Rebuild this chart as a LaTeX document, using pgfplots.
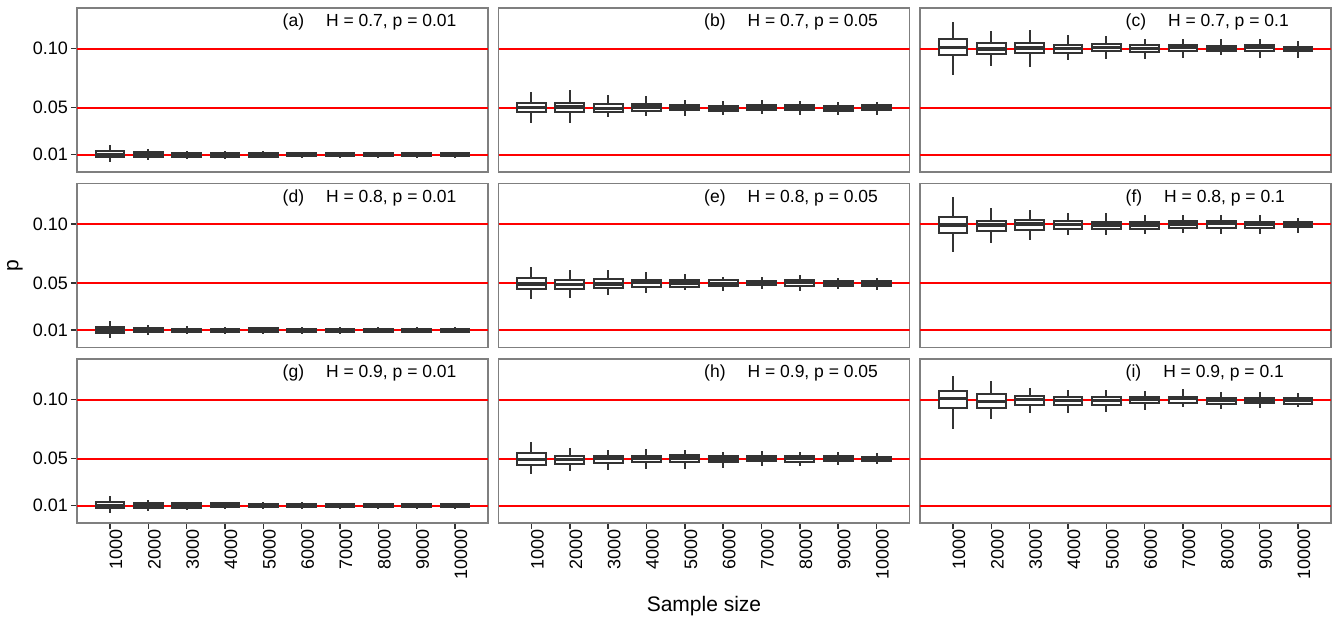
\documentclass[border=0pt]{standalone}
\usepackage{fontspec}
\setmainfont{Liberation Sans}
\usepackage{pgfplots}
\usepackage{pgfplotstable}
\pgfplotsset{compat=1.18}
\usepgfplotslibrary{statistics}
\definecolor{dk}{HTML}{333333}
\definecolor{fr}{HTML}{7F7F7F}
\definecolor{rl}{HTML}{FF0000}

\pgfplotstableread{
lw lq med uq uw
0.0041 0.0077 0.0103 0.0131 0.0182
0.0052 0.0080 0.0100 0.0120 0.0151
0.0063 0.0083 0.0100 0.0114 0.0134
0.0066 0.0084 0.0100 0.0114 0.0130
0.0068 0.0084 0.0100 0.0114 0.0128
0.0070 0.0086 0.0100 0.0112 0.0126
0.0071 0.0087 0.0100 0.0112 0.0125
0.0072 0.0087 0.0100 0.0112 0.0124
0.0073 0.0088 0.0100 0.0111 0.0124
0.0074 0.0088 0.0100 0.0111 0.0123
}\tA
\pgfplotstableread{
lw lq med uq uw
0.0370 0.0458 0.0500 0.0540 0.0633
0.0373 0.0458 0.0503 0.0542 0.0647
0.0420 0.0458 0.0494 0.0528 0.0610
0.0429 0.0472 0.0503 0.0531 0.0596
0.0426 0.0477 0.0506 0.0525 0.0568
0.0438 0.0472 0.0497 0.0517 0.0554
0.0443 0.0480 0.0506 0.0525 0.0560
0.0438 0.0477 0.0500 0.0520 0.0554
0.0438 0.0472 0.0497 0.0517 0.0548
0.0435 0.0477 0.0500 0.0520 0.0551
}\tB
\pgfplotstableread{
lw lq med uq uw
0.0774 0.0943 0.1008 0.1079 0.1226
0.0850 0.0955 0.0997 0.1048 0.1153
0.0847 0.0966 0.1006 0.1045 0.1158
0.0907 0.0963 0.1000 0.1034 0.1113
0.0910 0.0980 0.1011 0.1037 0.1108
0.0912 0.0975 0.1000 0.1028 0.1079
0.0924 0.0983 0.1008 0.1028 0.1085
0.0943 0.0977 0.1006 0.1025 0.1085
0.0921 0.0980 0.1008 0.1031 0.1085
0.0921 0.0977 0.1000 0.1017 0.1062
}\tC
\pgfplotstableread{
lw lq med uq uw
0.0036 0.0072 0.0100 0.0130 0.0178
0.0055 0.0081 0.0100 0.0119 0.0148
0.0064 0.0084 0.0100 0.0114 0.0134
0.0066 0.0085 0.0100 0.0114 0.0131
0.0068 0.0085 0.0101 0.0115 0.0129
0.0070 0.0086 0.0100 0.0112 0.0127
0.0071 0.0087 0.0100 0.0112 0.0126
0.0072 0.0087 0.0101 0.0113 0.0125
0.0073 0.0088 0.0100 0.0111 0.0124
0.0074 0.0088 0.0100 0.0112 0.0123
}\tD
\pgfplotstableread{
lw lq med uq uw
0.0364 0.0449 0.0492 0.0540 0.0636
0.0375 0.0449 0.0486 0.0523 0.0610
0.0398 0.0455 0.0494 0.0531 0.0613
0.0418 0.0466 0.0503 0.0525 0.0593
0.0438 0.0469 0.0500 0.0528 0.0574
0.0435 0.0472 0.0497 0.0523 0.0554
0.0446 0.0480 0.0500 0.0520 0.0554
0.0435 0.0477 0.0503 0.0525 0.0571
0.0446 0.0477 0.0497 0.0520 0.0542
0.0440 0.0477 0.0497 0.0517 0.0542
}\tE
\pgfplotstableread{
lw lq med uq uw
0.0762 0.0924 0.0994 0.1057 0.1229
0.0839 0.0941 0.0994 0.1025 0.1139
0.0867 0.0952 0.1000 0.1037 0.1122
0.0907 0.0960 0.0997 0.1023 0.1093
0.0904 0.0955 0.0994 0.1020 0.1096
0.0918 0.0960 0.0994 0.1014 0.1074
0.0924 0.0969 0.1000 0.1023 0.1074
0.0915 0.0969 0.1006 0.1028 0.1079
0.0915 0.0966 0.1000 0.1020 0.1074
0.0929 0.0975 0.0997 0.1014 0.1054
}\tF
\pgfplotstableread{
lw lq med uq uw
0.0038 0.0077 0.0102 0.0128 0.0185
0.0058 0.0077 0.0097 0.0123 0.0148
0.0066 0.0083 0.0101 0.0120 0.0134
0.0068 0.0087 0.0103 0.0119 0.0133
0.0069 0.0085 0.0100 0.0115 0.0130
0.0071 0.0086 0.0099 0.0112 0.0127
0.0072 0.0087 0.0100 0.0112 0.0126
0.0072 0.0086 0.0099 0.0111 0.0125
0.0073 0.0087 0.0100 0.0111 0.0124
0.0074 0.0088 0.0100 0.0111 0.0123
}\tG
\pgfplotstableread{
lw lq med uq uw
0.0373 0.0449 0.0494 0.0551 0.0644
0.0392 0.0458 0.0494 0.0523 0.0593
0.0404 0.0460 0.0500 0.0525 0.0574
0.0412 0.0469 0.0500 0.0525 0.0579
0.0415 0.0469 0.0503 0.0528 0.0571
0.0424 0.0469 0.0497 0.0523 0.0557
0.0438 0.0475 0.0503 0.0523 0.0562
0.0438 0.0472 0.0500 0.0523 0.0559
0.0443 0.0475 0.0500 0.0523 0.0557
0.0452 0.0477 0.0497 0.0517 0.0551
}\tH
\pgfplotstableread{
lw lq med uq uw
0.0751 0.0929 0.1008 0.1071 0.1198
0.0839 0.0929 0.0983 0.1051 0.1156
0.0890 0.0952 0.1003 0.1031 0.1102
0.0890 0.0958 0.0994 0.1023 0.1082
0.0895 0.0958 0.0994 0.1023 0.1085
0.0912 0.0972 0.1003 0.1023 0.1074
0.0935 0.0969 0.1008 0.1025 0.1088
0.0921 0.0963 0.0994 0.1017 0.1062
0.0932 0.0969 0.0997 0.1017 0.1065
0.0938 0.0966 0.0992 0.1014 0.1059
}\tI

\pgfplotsset{
  common/.style={
    width=411bp, height=164bp, scale only axis,
    xmin=0.14, xmax=10.86, ymin=-0.0047, ymax=0.1345,
    axis line style={draw=fr, line width=1.5bp},
    tick style={draw=dk, line width=1.5bp},
    major tick length=6bp, tick align=outside,
    xtick pos=bottom, ytick pos=left,
    /pgf/number format/assume math mode=true,
    tick label style={font=\fontsize{18bp}{21bp}\selectfont, text=black},
    label style={font=\fontsize{21bp}{24bp}\selectfont, text=black},
    boxplot/draw direction=y,
    xtick=\empty, ytick=\empty,
  },
  bx/.style={draw=dk, fill=white, line width=2bp, solid, mark=none,
    boxplot/box extend=0.75,
    boxplot/whisker extend=0,
    boxplot/every median/.style={line width=3.5bp}},
  rline/.style={draw=rl, line width=2bp, mark=none},
  ylab/.style={ytick={0.01,0.05,0.1}, yticklabels={0.01,0.05,0.10},
    yticklabel style={anchor=east, inner sep=0pt, xshift=-3bp}},
  xlab/.style={xtick={1,...,10},
    xticklabels={1000,2000,3000,4000,5000,6000,7000,8000,9000,10000},
    xticklabel style={rotate=90, anchor=east, inner sep=0pt, yshift=-6bp}},
}

\newcommand{\panel}[5]{%
\begin{axis}[common, at={(#1bp,#2bp)}, anchor=south west, #5]
\addplot[rline] coordinates {(0.14,0.01) (10.86,0.01)};
\addplot[rline] coordinates {(0.14,0.05) (10.86,0.05)};
\addplot[rline] coordinates {(0.14,0.10) (10.86,0.10)};
\foreach \r in {0,...,9}{
  \pgfplotstablegetelem{\r}{lw}\of#3\let\vlw\pgfplotsretval
  \pgfplotstablegetelem{\r}{lq}\of#3\let\vlq\pgfplotsretval
  \pgfplotstablegetelem{\r}{med}\of#3\let\vmed\pgfplotsretval
  \pgfplotstablegetelem{\r}{uq}\of#3\let\vuq\pgfplotsretval
  \pgfplotstablegetelem{\r}{uw}\of#3\let\vuw\pgfplotsretval
  \pgfmathtruncatemacro\vpos{\r+1}
  \edef\temp{\noexpand\addplot[bx, boxplot prepared={lower whisker=\vlw,
    lower quartile=\vlq, median=\vmed, upper quartile=\vuq,
    upper whisker=\vuw, draw position=\vpos}] coordinates {};}
  \temp
}
\node[anchor=base west, inner sep=0pt, font=\fontsize{17.5bp}{20bp}\selectfont]
  at (axis description cs:0.5,0.886) {#4};
\end{axis}}

\begin{document}
\begin{tikzpicture}
\useasboundingbox (0,0) rectangle (1335bp,619bp);
\panel{77}{447}{\tA}{(a)\hspace{22bp}H = 0.7, p = 0.01}{ylab}
\panel{498.5}{447}{\tB}{(b)\hspace{22bp}H = 0.7, p = 0.05}{}
\panel{920}{447}{\tC}{(c)\hspace{22bp}H = 0.7, p = 0.1}{}
\panel{77}{271.5}{\tD}{(d)\hspace{22bp}H = 0.8, p = 0.01}{ylab, ylabel={p},
  ylabel style={at={(axis description cs:-0.151,0.5)}, anchor=center}}
\panel{498.5}{271.5}{\tE}{(e)\hspace{22bp}H = 0.8, p = 0.05}{}
\panel{920}{271.5}{\tF}{(f)\hspace{22bp}H = 0.8, p = 0.1}{}
\panel{77}{96}{\tG}{(g)\hspace{22bp}H = 0.9, p = 0.01}{ylab, xlab}
\panel{498.5}{96}{\tH}{(h)\hspace{22bp}H = 0.9, p = 0.05}{xlab, xlabel={Sample size},
  xlabel style={at={(axis description cs:0.5,-0.537)}, anchor=base}}
\panel{920}{96}{\tI}{(i)\hspace{22bp}H = 0.9, p = 0.1}{xlab}
\end{tikzpicture}
\end{document}
